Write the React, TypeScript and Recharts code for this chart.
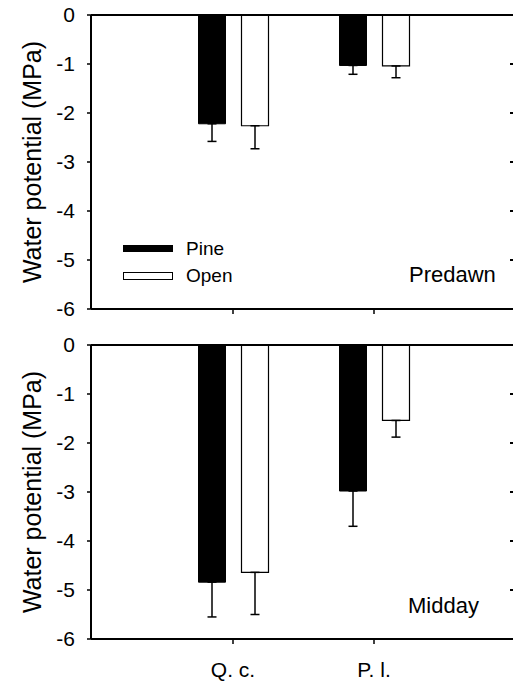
import React from 'react';
import { Bar, BarChart, ErrorBar, Legend, ReferenceLine, XAxis, YAxis } from 'recharts';

const species = ['Q. c.', 'P. l.'];
const seriesNames = ['Pine', 'Open'];

const predawnPine = [-2.22, -1.03];
const predawnPineSe = [0.36, 0.18];
const predawnOpen = [-2.26, -1.04];
const predawnOpenSe = [0.47, 0.24];

const middayPine = [-4.84, -2.98];
const middayPineSe = [0.71, 0.72];
const middayOpen = [-4.64, -1.54];
const middayOpenSe = [0.86, 0.34];

const yTicks = [0, -1, -2, -3, -4, -5, -6];

const font = 'Liberation Sans, Arial, Helvetica, sans-serif';

const rows = (pine: number[], pineSe: number[], open: number[], openSe: number[]) =>
    species.map((name, i) => ({
        name,
        pine: pine[i],
        open: open[i],
        // error bars only point downwards
        pineErr: [pineSe[i], 0],
        openErr: [openSe[i], 0],
    }));

const predawnData = rows(predawnPine, predawnPineSe, predawnOpen, predawnOpenSe);
const middayData = rows(middayPine, middayPineSe, middayOpen, middayOpenSe);

// short inward tick on the right frame (the frame line itself is past the window edge)
const RightTick = (props: any) => {
    const right = Math.max(props.x1, props.x2);
    return <line x1={right - 6} x2={right} y1={props.y1} y2={props.y1} stroke="#000" strokeWidth={2} />;
};

const LegendBox = () => (
    <div style={{ fontFamily: font, fontSize: 19, color: '#000' }}>
        {seriesNames.map((n, i) => (
            <div key={n} style={{ display: 'flex', alignItems: 'center', height: 27 }}>
                <span
                    style={{
                        display: 'inline-block',
                        boxSizing: 'border-box',
                        width: 50,
                        height: i === 0 ? 7 : 8,
                        background: i === 0 ? '#000' : '#fff',
                        border: '1px solid #000',
                        marginRight: 13,
                    }}
                />
                <span>{n}</span>
            </div>
        ))}
    </div>
);

type PanelProps = {
    data: any[];
    height: number;
    xAxisHeight: number;
    showLabels: boolean;
    showLegend: boolean;
};

const Panel = ({ data, height, xAxisHeight, showLabels, showLegend }: PanelProps) => (
    <BarChart
        width={516}
        height={height}
        data={data}
        margin={{ top: 15, right: 0, bottom: 0, left: 0 }}
        barSize={27}
        barGap={16}
    >
        <XAxis
            dataKey="name"
            interval={0}
            height={xAxisHeight}
            padding={{ left: 71.5, right: 71.5 }}
            tickSize={5}
            tickMargin={18}
            axisLine={{ stroke: '#000', strokeWidth: 2 }}
            tickLine={{ stroke: '#000', strokeWidth: 1.5 }}
            tick={{ fontSize: 21, fill: '#000', fontFamily: font }}
            tickFormatter={showLabels ? undefined : () => ''}
        />
        <YAxis
            domain={[-6, 0]}
            ticks={yTicks}
            width={91}
            tickSize={4}
            tickMargin={12}
            axisLine={{ stroke: '#000', strokeWidth: 2 }}
            tickLine={{ stroke: '#000', strokeWidth: 1.5 }}
            tick={{ fontSize: 21, fill: '#000', fontFamily: font }}
            label={{
                value: 'Water potential (MPa)',
                angle: -90,
                position: 'insideLeft',
                offset: 32,
                style: { textAnchor: 'middle', fontSize: 25, fill: '#000', fontFamily: font },
            }}
        />
        <ReferenceLine y={0} stroke="#000" strokeWidth={2} />
        {yTicks.slice(1, -1).map((t) => (
            <ReferenceLine key={t} y={t} shape={RightTick} />
        ))}
        {showLegend && (
            <Legend
                layout="vertical"
                align="center"
                verticalAlign="middle"
                content={<LegendBox />}
                wrapperStyle={{ left: 123, top: 235, width: 150 }}
            />
        )}
        <Bar dataKey="pine" name="Pine" fill="#000" stroke="#000" strokeWidth={1} isAnimationActive={false}>
            <ErrorBar dataKey="pineErr" width={4.5} stroke="#000" strokeWidth={1.5} />
        </Bar>
        <Bar dataKey="open" name="Open" fill="#fff" stroke="#000" strokeWidth={1.2} isAnimationActive={false}>
            <ErrorBar dataKey="openErr" width={4.5} stroke="#000" strokeWidth={1.5} />
        </Bar>
    </BarChart>
);

const App = () => (
    <div
        style={{
            position: 'absolute',
            left: 0,
            top: 0,
            width: 513,
            height: 681,
            overflow: 'hidden',
            background: '#fff',
        }}
    >
        <div style={{ position: 'absolute', left: 0, top: 0 }}>
            <Panel data={predawnData} height={330} xAxisHeight={21} showLabels={false} showLegend />
        </div>
        <div style={{ position: 'absolute', left: 0, top: 330 }}>
            <Panel data={middayData} height={351} xAxisHeight={42} showLabels showLegend={false} />
        </div>
        <div style={{ position: 'absolute', left: 409, top: 262, fontFamily: font, fontSize: 22, color: '#000' }}>
            Predawn
        </div>
        <div style={{ position: 'absolute', left: 408, top: 593, fontFamily: font, fontSize: 22, color: '#000' }}>
            Midday
        </div>
    </div>
);

export default App;
